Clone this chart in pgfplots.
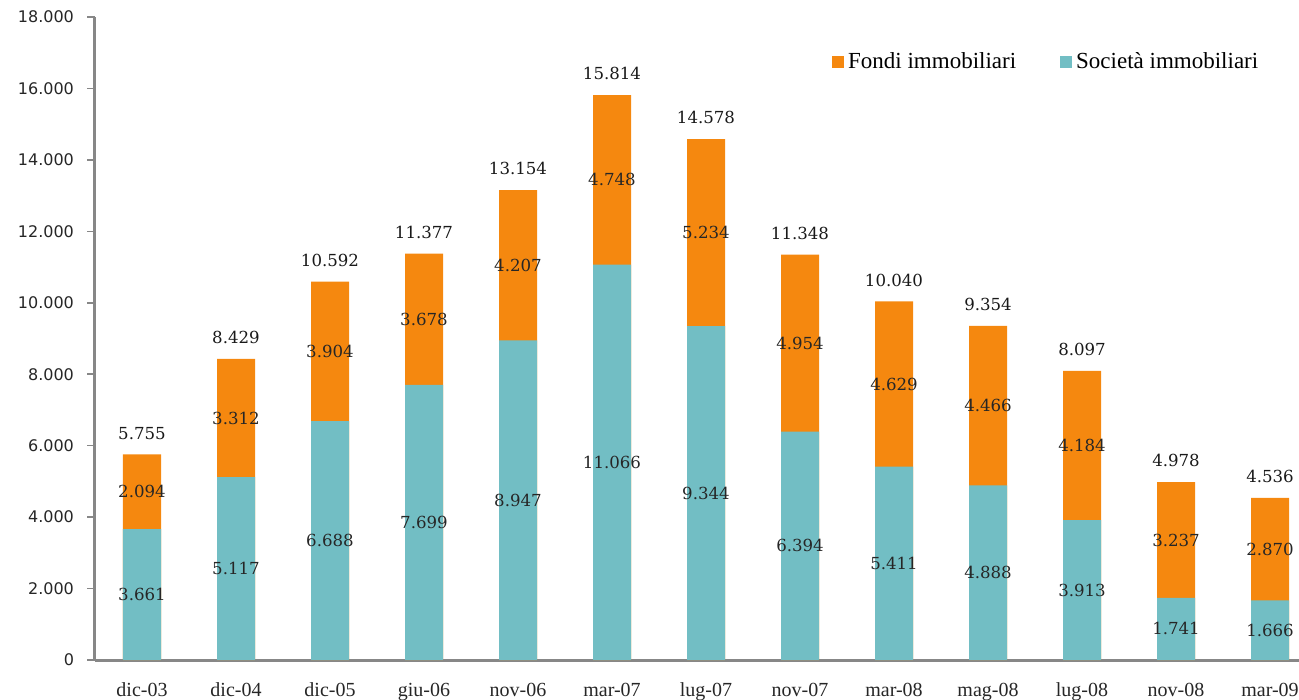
\documentclass[border=0pt]{standalone}
\usepackage{pgfplots}
\pgfplotsset{compat=1.18}
\usepackage{pgfplotstable}
\usepackage{fontspec}
\setmainfont{Liberation Serif}
\newfontfamily\tickfont{DejaVu Sans}
\newfontfamily\labfont{DejaVu Serif}
\definecolor{orangeC}{RGB}{245,136,15}
\definecolor{tealC}{RGB}{114,190,196}
\definecolor{axisG}{RGB}{135,135,135}
\pgfplotstableread{
x soc fondi total
0 3661 2094 5755
1 5117 3312 8429
2 6688 3904 10592
3 7699 3678 11377
4 8947 4207 13154
5 11066 4748 15814
6 9344 5234 14578
7 6394 4954 11348
8 5411 4629 10040
9 4888 4466 9354
10 3913 4184 8097
11 1741 3237 4978
12 1666 2870 4536
}\data
\pgfkeys{/pgf/number format/.cd, 1000 sep={.}, fixed, assume math mode=true}
\begin{document}
\begin{tikzpicture}
\begin{axis}[
  at={(0,0)}, anchor=south west,
  scale only axis, width=611pt, height=321.5pt,
  xmin=-0.5, xmax=12.5, ymin=0, ymax=18000,
  axis x line=bottom, axis y line=left,
  axis line style={-, draw=axisG, line width=1.5pt},
  ytick={0,2000,...,18000},
  scaled y ticks=false,
  yticklabel style={font=\tickfont\fontsize{8}{9}\selectfont, text=black!85, xshift=-3pt,
    /pgf/number format/assume math mode=true, /pgf/number format/1000 sep={.}, /pgf/number format/fixed},
  xtick={0,...,12},
  xticklabels={dic-03,dic-04,dic-05,giu-06,nov-06,mar-07,lug-07,nov-07,mar-08,mag-08,lug-08,nov-08,mar-09},
  xticklabel style={font=\fontsize{10}{12}\selectfont, text=black!85, yshift=-4pt},
  x tick style={draw=none},
  extra x ticks={-0.5,0.5,...,12.5},
  extra x tick labels={},
  extra x tick style={tick style={draw=axisG, line width=0.8pt}, major tick length=4pt, tick align=outside},
  y tick style={draw=axisG, line width=0.8pt},
  major tick length=4pt, tick align=outside,
  legend style={at={(rel axis cs:0.598,0.930)}, anchor=west, draw=none, fill=none,
    legend columns=2, font=\fontsize{11.5}{13}\selectfont,
    /tikz/every even column/.append style={column sep=20pt}},
  legend image code/.code={\fill[#1] (0pt,-3pt) rectangle (6pt,3pt);},
]
\addplot[ybar, bar width=19pt, bar shift=0pt, fill=orangeC, draw=none,
  nodes near coords, point meta=y,
  nodes near coords align=vertical,
  every node near coord/.append style={font=\labfont\fontsize{8.3}{9}\selectfont, text=black!90, yshift=4pt}]
  table[x=x, y=total] {\data};
\addlegendentry{Fondi immobiliari}
\addplot[ybar, bar width=19pt, bar shift=0pt, fill=tealC, draw=none]
  table[x=x, y=soc] {\data};
\addlegendentry{Società immobiliari}
\addplot[draw=none, forget plot, nodes near coords, point meta=explicit,
  nodes near coords align=center,
  every node near coord/.append style={font=\labfont\fontsize{8.3}{9}\selectfont, text=black!85, anchor=center}]
  table[x=x, y expr=\thisrow{soc}/2, meta=soc] {\data};
\addplot[draw=none, forget plot, nodes near coords, point meta=explicit,
  nodes near coords align=center,
  every node near coord/.append style={font=\labfont\fontsize{8.3}{9}\selectfont, text=black!85, anchor=center}]
  table[x=x, y expr=\thisrow{soc}+\thisrow{fondi}/2, meta=fondi] {\data};
\end{axis}
\pgfresetboundingbox
\path (-47.5pt,-20pt) rectangle (602pt,330pt);
\end{tikzpicture}
\end{document}
